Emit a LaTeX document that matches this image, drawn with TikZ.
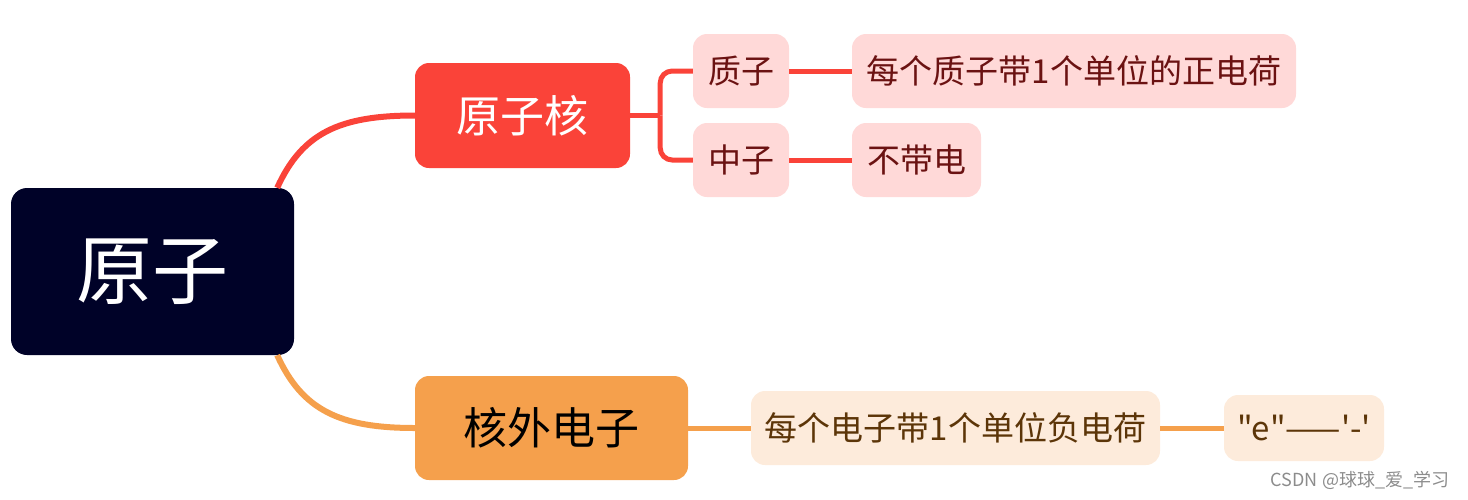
\documentclass[tikz,border=0pt]{standalone}
\usepackage{fontspec}
\setmainfont{Noto Sans CJK SC}
\newfontfamily\simbolos{Noto Sans CJK SC}[Ligatures=TeXOff]
\usetikzlibrary{calc}

\definecolor{raizfondo}{HTML}{000228}
\definecolor{rojo}{HTML}{FA4339}
\definecolor{naranja}{HTML}{F5A04C}
\definecolor{rosa}{HTML}{FFD9D8}
\definecolor{granate}{HTML}{6B1212}
\definecolor{crema}{HTML}{FDEBDB}
\definecolor{marron}{HTML}{5C3508}

\tikzset{
  caja/.style={rounded corners=14pt, inner sep=0pt, align=center},
  hoja/.style={caja, minimum height=74, font=\fontsize{33}{33}\selectfont},
  hojaroja/.style={hoja, fill=rosa, text=granate},
  hojanaranja/.style={hoja, fill=crema, text=marron},
}

\begin{document}
\begin{tikzpicture}[x=1pt, y=-1pt]
    \useasboundingbox (0,0) rectangle (1468,499);

    % 1. NODO CENTRAL
    \node[caja, rounded corners=16pt, fill=raizfondo, text=white, minimum width=283, minimum height=167,
          font=\fontsize{76}{76}\selectfont] (raiz) at (152.5,271.5) {原子};

    % 2. RAMAS PRINCIPALES
    \node[caja, fill=rojo, text=white, minimum width=215, minimum height=105,
          font=\fontsize{44}{44}\selectfont] (nucleo) at (522.5,115.5) {原子核};
    \node[caja, fill=naranja, text=black, minimum width=273, minimum height=104,
          font=\fontsize{44}{44}\selectfont] (corteza) at (551.5,428) {核外电子};

    % 3. HOJAS DEL NUCLEO
    \node[hojaroja, minimum width=96] (proton) at (741,71) {质子};
    \node[hojaroja, minimum width=96] (neutron) at (741,160) {中子};
    \node[hojaroja, minimum width=444] (cargap) at (1074,71) {每个质子带1个单位的正电荷};
    \node[hojaroja, minimum width=129] (cargan) at (916.5,160) {不带电};

    % 4. HOJAS DE LA CORTEZA
    \node[hojanaranja, minimum width=409] (cargae) at (955.5,428) {每个电子带1个单位负电荷};
    \node[hojanaranja, minimum width=160, minimum height=66, font=\simbolos\fontsize{33}{33}\selectfont]
          (simbolo) at (1304,428) {"e"——'-'};

    % 5. CURVAS DESDE LA RAIZ
    \draw[rojo, line width=6] ($(raiz.north east)+(-17,0)$) .. controls +(25,-55) and +(-75,0) .. (nucleo.west);
    \draw[naranja, line width=6] ($(raiz.south east)+(-17,0)$) .. controls +(25,55) and +(-75,0) .. (corteza.west);

    % 6. HORQUILLA Y TRAMOS RECTOS
    \draw[rojo, line width=5] (nucleo.east) -- ++(30,0) coordinate (horquilla);
    \draw[rojo, line width=5, rounded corners=12] (horquilla) |- (proton.west);
    \draw[rojo, line width=5, rounded corners=12] (horquilla) |- (neutron.west);
    \draw[rojo, line width=5] (proton.east) -- (cargap.west);
    \draw[rojo, line width=5] (neutron.east) -- (cargan.west);
    \draw[naranja, line width=5] (corteza.east) -- (cargae.west);
    \draw[naranja, line width=5] (cargae.east) -- (simbolo.west);

    % 7. MARCA DE AGUA
    \node[text=black!45, font=\fontsize{18}{18}\selectfont] (marca) at (1360,480) {CSDN @球球\_爱\_学习};

\end{tikzpicture}
\end{document}
